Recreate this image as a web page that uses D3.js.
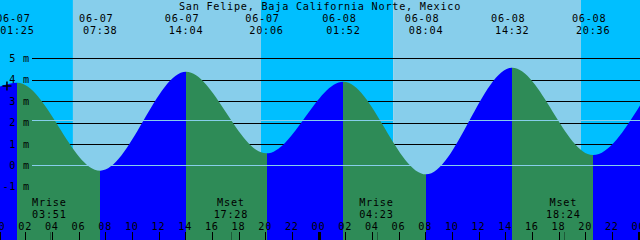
<!DOCTYPE html>
<html>
<head>
<meta charset="utf-8">
<script src="https://cdn.jsdelivr.net/npm/d3@7"></script>
<style>
html, body { margin: 0; padding: 0; background: #fff; overflow: hidden; }
svg { display: block; }
text { font-family: "DejaVu Sans Mono", monospace; font-size: 10.2px; letter-spacing: 0.75px; fill: #000; }
</style>
</head>
<body>
<div id="svgContainer"></div>
<script>
var title = "San Felipe, Baja California Norte, Mexico";

// window start, highs and lows, window end
var tideTimes = ["06-07 00:00", "06-07 01:25", "06-07 07:38", "06-07 14:04", "06-07 20:06",
                 "06-08 01:52", "06-08 08:04", "06-08 14:32", "06-08 20:36", "06-09 00:10"];
var tideHeights = [3.66, 3.86, -0.25, 4.37, 0.56, 3.91, -0.42, 4.56, 0.48, 2.85];

var sunTimes = ["06-07 05:35", "06-07 19:41", "06-08 05:36", "06-08 19:41"];
var moonTimes = ["06-07 03:51", "06-07 17:28", "06-08 04:23", "06-08 18:24"];
var moonEvents = ["Mrise", "Mset", "Mrise", "Mset"];

var levelTicks = [-1, 0, 1, 2, 3, 4, 5];
var meanLevel = 2.1;
var markTime = "06-07 00:38", markHeight = 3.7;

var width = 640, height = 240;

var parse = d3.utcParse("%m-%d %H:%M");
var fmtDate = d3.utcFormat("%m-%d"), fmtTime = d3.utcFormat("%H:%M"), fmtHour = d3.utcFormat("%H");

var t0 = parse("06-07 00:00"), t1 = parse("06-09 00:00");
var x = d3.scaleUtc().domain([t0, t1]).range([-1.5, 638.5]);
var y = d3.scaleLinear().domain([-1, 5]).range([186.7, 58.3]);

var tide = tideTimes.map((s, i) => ({ t: parse(s), h: tideHeights[i] }));
var extremes = tide.slice(1, tide.length - 1);

var svg = d3.select("#svgContainer").append("svg")
    .attr("width", width)
    .attr("height", height)
    .attr("viewBox", "0 0 " + width + " " + height);

// sky: night / day bands
var bounds = [t0].concat(sunTimes.map(parse)).concat([t1]);
svg.append("g")
    .selectAll("rect")
    .data(d3.pairs(bounds))
    .enter().append("rect")
    .attr("x", (d, i) => i == 0 ? 0 : x(d[0]))
    .attr("width", (d, i) => (i == bounds.length - 2 ? width : x(d[1])) - (i == 0 ? 0 : x(d[0])))
    .attr("y", 0)
    .attr("height", height)
    .attr("fill", (d, i) => i % 2 ? "#87CEEB" : "#00BFFF");

// level lines
svg.append("g")
    .attr("shape-rendering", "crispEdges")
    .selectAll("line")
    .data(levelTicks)
    .enter().append("line")
    .attr("x1", 32).attr("x2", width)
    .attr("y1", d => Math.round(y(d)) + 0.5)
    .attr("y2", d => Math.round(y(d)) + 0.5)
    .attr("stroke", "#000");

// water
var area = d3.area()
    .x(d => x(d.t))
    .y0(height)
    .y1(d => y(d.h))
    .curve(d3.curveMonotoneX);

svg.append("clipPath").attr("id", "water")
    .append("path").attr("d", area(tide));

svg.append("g")
    .attr("clip-path", "url(#water)")
    .attr("shape-rendering", "crispEdges")
    .selectAll("rect")
    .data(d3.pairs(tide))
    .enter().append("rect")
    .attr("x", (d, i) => i == 0 ? 0 : x(d[0].t))
    .attr("width", (d, i) => (i == tide.length - 2 ? width : x(d[1].t)) - (i == 0 ? 0 : x(d[0].t)))
    .attr("y", 0)
    .attr("height", height)
    .attr("fill", d => d[1].h > d[0].h ? "#0000FF" : "#2E8B57");

// datum and mean level
svg.append("g")
    .attr("shape-rendering", "crispEdges")
    .selectAll("line")
    .data([0, meanLevel])
    .enter().append("line")
    .attr("x1", 32).attr("x2", width)
    .attr("y1", d => Math.round(y(d)) + 0.5)
    .attr("y2", d => Math.round(y(d)) + 0.5)
    .attr("stroke", "#87CEEB");

// level labels
svg.append("g")
    .selectAll("text")
    .data(levelTicks)
    .enter().append("text")
    .attr("x", 30)
    .attr("y", d => y(d) + 3.7)
    .attr("text-anchor", "end")
    .text(d => d + " m");

// marker
var mx = x(parse(markTime)), my = y(markHeight);
svg.append("path")
    .attr("d", "M" + (mx - 4.5) + "," + my + "H" + (mx + 4.5) + "M" + mx + "," + (my - 4.5) + "V" + (my + 4.5))
    .attr("stroke", "#000")
    .attr("stroke-width", 1.5);

// title
svg.append("text")
    .attr("x", width / 2)
    .attr("y", 10)
    .attr("text-anchor", "middle")
    .text(title);

// high / low labels
var ext = svg.append("g")
    .selectAll("g")
    .data(extremes)
    .enter().append("g")
    .attr("text-anchor", "middle");
ext.append("text")
    .attr("x", d => x(d.t) - 4)
    .attr("y", 22)
    .text(d => fmtDate(d.t));
ext.append("text")
    .attr("x", d => x(d.t))
    .attr("y", 34)
    .text(d => fmtTime(d.t));

// moon labels
var moon = svg.append("g")
    .selectAll("g")
    .data(moonTimes.map((s, i) => ({ t: parse(s), name: moonEvents[i] })))
    .enter().append("g")
    .attr("text-anchor", "middle");
moon.append("text")
    .attr("x", d => x(d.t) - 0.5)
    .attr("y", 206)
    .text(d => d.name);
moon.append("text")
    .attr("x", d => x(d.t) - 0.5)
    .attr("y", 218)
    .text(d => fmtTime(d.t));
moon.append("line")
    .attr("x1", d => Math.round(x(d.t)) + 0.5)
    .attr("x2", d => Math.round(x(d.t)) + 0.5)
    .attr("y1", 232).attr("y2", height)
    .attr("stroke", "#000")
    .attr("stroke-opacity", 0.35);

// hour axis
var hours = d3.utcHour.every(2).range(t0, d3.utcHour.offset(t1, 1));
var hx = svg.append("g")
    .selectAll("g")
    .data(hours)
    .enter().append("g");
hx.append("text")
    .attr("x", d => x(d))
    .attr("y", 230)
    .attr("text-anchor", "middle")
    .text(d => fmtHour(d));
hx.append("line")
    .attr("x1", d => Math.round(x(d)) + 0.5)
    .attr("x2", d => Math.round(x(d)) + 0.5)
    .attr("y1", 232).attr("y2", height)
    .attr("stroke", "#000")
    .attr("stroke-width", d => d.getUTCHours() == 0 ? 3 : 1);
</script>
</body>
</html>
